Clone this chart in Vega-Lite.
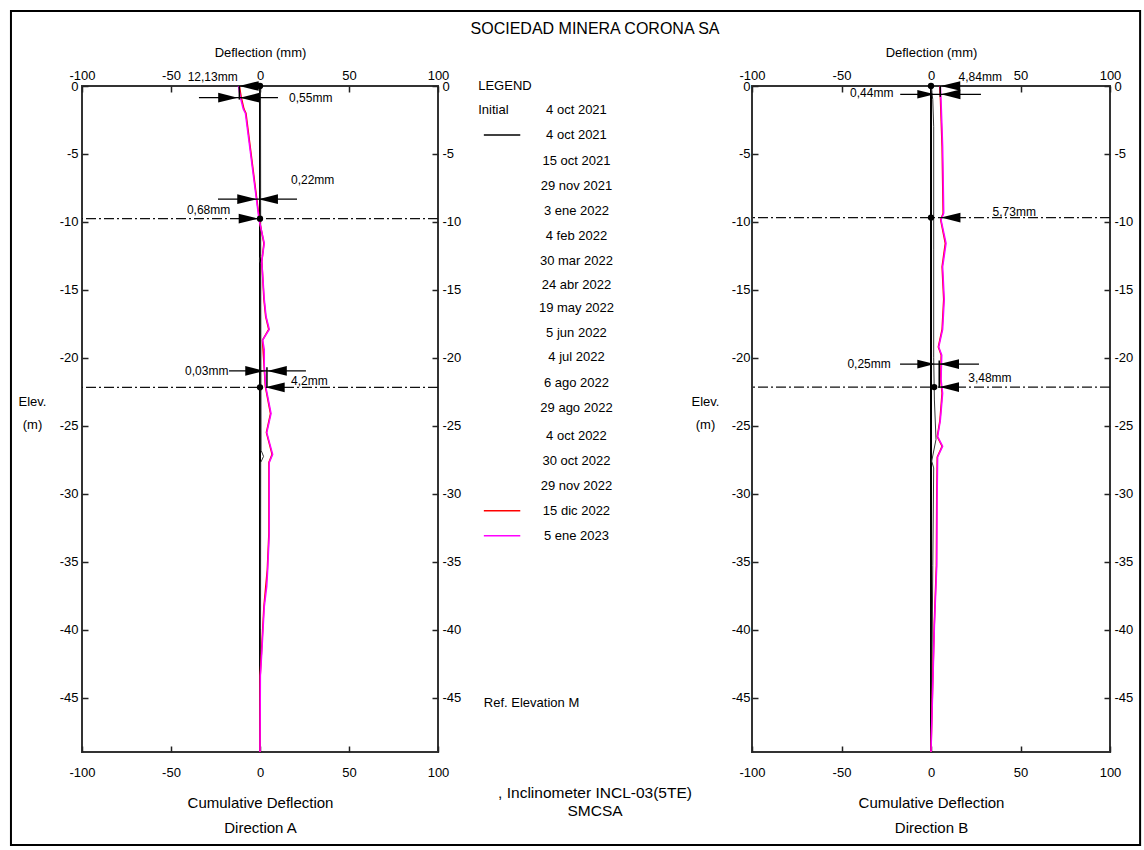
{
"$schema": "https://vega.github.io/schema/vega-lite/v6.json",
"background": "white",
"padding": {"left": 9, "top": 10, "right": 4, "bottom": 4},
"spacing": 0,
"bounds": "flush",
"config": {
  "font": "Liberation Sans",
  "view": {"stroke": "#333", "strokeWidth": 2},
  "axis": {"grid": false, "domain": false, "labelFontSize": 13, "labelColor": "#000", "labelFont": "Liberation Sans", "tickColor": "#222", "tickWidth": 1.5, "titleFont": "Liberation Sans", "titleFontWeight": "normal", "titleColor": "#000", "labelOverlap": false, "labelFlush": false, "labelBound": false, "labelExpr": "'' + datum.value"}
},
"datasets": {
  "profiles": [
    {"dir":"A","series":"Initial","depth":0,"defl":0},
    {"dir":"A","series":"Initial","depth":-49,"defl":0},
    {"dir":"A","series":"4 oct 2021","depth":0,"defl":0},
    {"dir":"A","series":"4 oct 2021","depth":-1,"defl":0.3},
    {"dir":"A","series":"4 oct 2021","depth":-12.5,"defl":0.4},
    {"dir":"A","series":"4 oct 2021","depth":-12.8,"defl":-0.4},
    {"dir":"A","series":"4 oct 2021","depth":-13.1,"defl":0.4},
    {"dir":"A","series":"4 oct 2021","depth":-26.8,"defl":0.6},
    {"dir":"A","series":"4 oct 2021","depth":-27.25,"defl":2.0},
    {"dir":"A","series":"4 oct 2021","depth":-27.7,"defl":0.4},
    {"dir":"A","series":"4 oct 2021","depth":-40,"defl":0.3},
    {"dir":"A","series":"4 oct 2021","depth":-49,"defl":0},
    {"dir":"A","series":"15 dic 2022","depth":0,"defl":-11.6},
    {"dir":"A","series":"15 dic 2022","depth":-0.8,"defl":-10.6},
    {"dir":"A","series":"15 dic 2022","depth":-1.7,"defl":-9.0},
    {"dir":"A","series":"15 dic 2022","depth":-2.0,"defl":-7.9},
    {"dir":"A","series":"15 dic 2022","depth":-9.36,"defl":-0.8},
    {"dir":"A","series":"15 dic 2022","depth":-9.85,"defl":-0.4},
    {"dir":"A","series":"15 dic 2022","depth":-11.57,"defl":2.2},
    {"dir":"A","series":"15 dic 2022","depth":-12.9,"defl":1.0},
    {"dir":"A","series":"15 dic 2022","depth":-15.7,"defl":2.2},
    {"dir":"A","series":"15 dic 2022","depth":-16.96,"defl":3.2},
    {"dir":"A","series":"15 dic 2022","depth":-17.9,"defl":4.9},
    {"dir":"A","series":"15 dic 2022","depth":-18.7,"defl":1.4},
    {"dir":"A","series":"15 dic 2022","depth":-20.6,"defl":2.3},
    {"dir":"A","series":"15 dic 2022","depth":-22.1,"defl":3.0},
    {"dir":"A","series":"15 dic 2022","depth":-24.1,"defl":5.9},
    {"dir":"A","series":"15 dic 2022","depth":-25.5,"defl":3.6},
    {"dir":"A","series":"15 dic 2022","depth":-27.1,"defl":6.8},
    {"dir":"A","series":"15 dic 2022","depth":-27.7,"defl":5.0},
    {"dir":"A","series":"15 dic 2022","depth":-32.9,"defl":5.0},
    {"dir":"A","series":"15 dic 2022","depth":-35.6,"defl":4.1},
    {"dir":"A","series":"15 dic 2022","depth":-38.3,"defl":2.2},
    {"dir":"A","series":"15 dic 2022","depth":-41.7,"defl":0.8},
    {"dir":"A","series":"15 dic 2022","depth":-43.4,"defl":0.1},
    {"dir":"A","series":"15 dic 2022","depth":-49,"defl":0},
    {"dir":"A","series":"5 ene 2023","depth":0,"defl":-12.1},
    {"dir":"A","series":"5 ene 2023","depth":-0.8,"defl":-11.1},
    {"dir":"A","series":"5 ene 2023","depth":-1.7,"defl":-9.4},
    {"dir":"A","series":"5 ene 2023","depth":-2.0,"defl":-8.2},
    {"dir":"A","series":"5 ene 2023","depth":-9.36,"defl":-1.0},
    {"dir":"A","series":"5 ene 2023","depth":-9.85,"defl":-0.5},
    {"dir":"A","series":"5 ene 2023","depth":-11.57,"defl":2.4},
    {"dir":"A","series":"5 ene 2023","depth":-12.9,"defl":1.0},
    {"dir":"A","series":"5 ene 2023","depth":-15.7,"defl":2.4},
    {"dir":"A","series":"5 ene 2023","depth":-16.96,"defl":3.4},
    {"dir":"A","series":"5 ene 2023","depth":-17.9,"defl":5.2},
    {"dir":"A","series":"5 ene 2023","depth":-18.7,"defl":1.5},
    {"dir":"A","series":"5 ene 2023","depth":-19.4,"defl":2.4},
    {"dir":"A","series":"5 ene 2023","depth":-20.6,"defl":2.4},
    {"dir":"A","series":"5 ene 2023","depth":-22.1,"defl":3.2},
    {"dir":"A","series":"5 ene 2023","depth":-24.1,"defl":6.2},
    {"dir":"A","series":"5 ene 2023","depth":-25.5,"defl":3.8},
    {"dir":"A","series":"5 ene 2023","depth":-27.1,"defl":7.1},
    {"dir":"A","series":"5 ene 2023","depth":-27.7,"defl":5.2},
    {"dir":"A","series":"5 ene 2023","depth":-32.9,"defl":5.2},
    {"dir":"A","series":"5 ene 2023","depth":-35.6,"defl":4.3},
    {"dir":"A","series":"5 ene 2023","depth":-36.8,"defl":3.8},
    {"dir":"A","series":"5 ene 2023","depth":-38.3,"defl":2.4},
    {"dir":"A","series":"5 ene 2023","depth":-41.7,"defl":1.0},
    {"dir":"A","series":"5 ene 2023","depth":-43.4,"defl":0.2},
    {"dir":"A","series":"5 ene 2023","depth":-49,"defl":0},
    {"dir":"B","series":"Initial","depth":0,"defl":0},
    {"dir":"B","series":"Initial","depth":-49,"defl":0},
    {"dir":"B","series":"4 oct 2021","depth":0,"defl":0},
    {"dir":"B","series":"4 oct 2021","depth":-1,"defl":1.0},
    {"dir":"B","series":"4 oct 2021","depth":-3,"defl":1.5},
    {"dir":"B","series":"4 oct 2021","depth":-12,"defl":1.5},
    {"dir":"B","series":"4 oct 2021","depth":-20,"defl":1.5},
    {"dir":"B","series":"4 oct 2021","depth":-23.1,"defl":1.9},
    {"dir":"B","series":"4 oct 2021","depth":-26,"defl":2.8},
    {"dir":"B","series":"4 oct 2021","depth":-27.6,"defl":0.4},
    {"dir":"B","series":"4 oct 2021","depth":-28.1,"defl":1.5},
    {"dir":"B","series":"4 oct 2021","depth":-35.3,"defl":1.0},
    {"dir":"B","series":"4 oct 2021","depth":-45,"defl":0.4},
    {"dir":"B","series":"4 oct 2021","depth":-49,"defl":0},
    {"dir":"B","series":"15 dic 2022","depth":0,"defl":4.9},
    {"dir":"B","series":"15 dic 2022","depth":-1.03,"defl":5.3},
    {"dir":"B","series":"15 dic 2022","depth":-4.46,"defl":6.2},
    {"dir":"B","series":"15 dic 2022","depth":-9.36,"defl":6.8},
    {"dir":"B","series":"15 dic 2022","depth":-9.85,"defl":5.4},
    {"dir":"B","series":"15 dic 2022","depth":-11.57,"defl":8.0},
    {"dir":"B","series":"15 dic 2022","depth":-13.3,"defl":6.2},
    {"dir":"B","series":"15 dic 2022","depth":-15.7,"defl":7.1},
    {"dir":"B","series":"15 dic 2022","depth":-17.9,"defl":6.2},
    {"dir":"B","series":"15 dic 2022","depth":-19.2,"defl":4.1},
    {"dir":"B","series":"15 dic 2022","depth":-19.8,"defl":5.7},
    {"dir":"B","series":"15 dic 2022","depth":-21.6,"defl":5.4},
    {"dir":"B","series":"15 dic 2022","depth":-22.6,"defl":6.2},
    {"dir":"B","series":"15 dic 2022","depth":-24.6,"defl":5.0},
    {"dir":"B","series":"15 dic 2022","depth":-25.8,"defl":3.5},
    {"dir":"B","series":"15 dic 2022","depth":-26.5,"defl":6.2},
    {"dir":"B","series":"15 dic 2022","depth":-27.3,"defl":3.5},
    {"dir":"B","series":"15 dic 2022","depth":-30.4,"defl":3.2},
    {"dir":"B","series":"15 dic 2022","depth":-35.3,"defl":3.0},
    {"dir":"B","series":"15 dic 2022","depth":-39.7,"defl":1.8},
    {"dir":"B","series":"15 dic 2022","depth":-44.6,"defl":0.8},
    {"dir":"B","series":"15 dic 2022","depth":-49,"defl":0},
    {"dir":"B","series":"5 ene 2023","depth":0,"defl":5.2},
    {"dir":"B","series":"5 ene 2023","depth":-1.03,"defl":5.6},
    {"dir":"B","series":"5 ene 2023","depth":-4.46,"defl":6.5},
    {"dir":"B","series":"5 ene 2023","depth":-9.36,"defl":7.1},
    {"dir":"B","series":"5 ene 2023","depth":-9.85,"defl":5.6},
    {"dir":"B","series":"5 ene 2023","depth":-11.57,"defl":8.4},
    {"dir":"B","series":"5 ene 2023","depth":-13.3,"defl":6.5},
    {"dir":"B","series":"5 ene 2023","depth":-15.7,"defl":7.4},
    {"dir":"B","series":"5 ene 2023","depth":-17.9,"defl":6.5},
    {"dir":"B","series":"5 ene 2023","depth":-19.2,"defl":4.3},
    {"dir":"B","series":"5 ene 2023","depth":-19.8,"defl":6.0},
    {"dir":"B","series":"5 ene 2023","depth":-21.6,"defl":5.6},
    {"dir":"B","series":"5 ene 2023","depth":-22.6,"defl":6.5},
    {"dir":"B","series":"5 ene 2023","depth":-24.6,"defl":5.2},
    {"dir":"B","series":"5 ene 2023","depth":-25.8,"defl":3.7},
    {"dir":"B","series":"5 ene 2023","depth":-26.5,"defl":6.5},
    {"dir":"B","series":"5 ene 2023","depth":-27.3,"defl":3.7},
    {"dir":"B","series":"5 ene 2023","depth":-30.4,"defl":3.4},
    {"dir":"B","series":"5 ene 2023","depth":-35.3,"defl":3.2},
    {"dir":"B","series":"5 ene 2023","depth":-39.7,"defl":1.9},
    {"dir":"B","series":"5 ene 2023","depth":-44.6,"defl":0.9},
    {"dir":"B","series":"5 ene 2023","depth":-49,"defl":0}
  ],
  "ann": [
    {"dir":"A","kind":"ref","depth":-9.76},
    {"dir":"A","kind":"ref","depth":-22.17},
    {"dir":"A","kind":"dim","defl":-34.3,"defl2":10.1,"depth":-0.86},
    {"dir":"A","kind":"dim","defl":-23.6,"defl2":20.8,"depth":-8.33},
    {"dir":"A","kind":"dim","defl":-17.4,"defl2":25.8,"depth":-20.96},
    {"dir":"A","kind":"vtick","defl":-11.6,"depth":0,"depth2":-1.0},
    {"dir":"A","kind":"vtick","defl":3.9,"depth":-20.7,"depth2":-22.2},
    {"dir":"A","kind":"tri_r","defl":-18.0,"depth":-0.86},
    {"dir":"A","kind":"tri_r","defl":-7.3,"depth":-8.33},
    {"dir":"A","kind":"tri_r","defl":-6.5,"depth":-9.76},
    {"dir":"A","kind":"tri_r","defl":-2.8,"depth":-20.96},
    {"dir":"A","kind":"tri_l","defl":-6.2,"depth":0},
    {"dir":"A","kind":"tri_l","defl":-5.8,"depth":-0.86},
    {"dir":"A","kind":"tri_l","defl":4.6,"depth":-8.33},
    {"dir":"A","kind":"tri_l","defl":9.6,"depth":-20.96},
    {"dir":"A","kind":"tri_l","defl":8.4,"depth":-22.17},
    {"dir":"A","kind":"dot","defl":0,"depth":0},
    {"dir":"A","kind":"dot","defl":0,"depth":-9.76},
    {"dir":"A","kind":"dot","defl":0,"depth":-22.17},
    {"dir":"A","kind":"label","defl":-26.6,"depth":0.68,"text":"12,13mm"},
    {"dir":"A","kind":"label","defl":28.5,"depth":-0.9,"text":"0,55mm"},
    {"dir":"A","kind":"label","defl":29.6,"depth":-6.9,"text":"0,22mm"},
    {"dir":"A","kind":"label","defl":-28.9,"depth":-9.12,"text":"0,68mm"},
    {"dir":"A","kind":"label","defl":-29.9,"depth":-20.96,"text":"0,03mm"},
    {"dir":"A","kind":"label","defl":27.7,"depth":-21.74,"text":"4,2mm"},
    {"dir":"B","kind":"ref","depth":-9.68},
    {"dir":"B","kind":"ref","depth":-22.15},
    {"dir":"B","kind":"dim","defl":-17.2,"defl2":27.9,"depth":-0.61},
    {"dir":"B","kind":"dim","defl":-17.3,"defl2":26.8,"depth":-20.46},
    {"dir":"B","kind":"vtick","defl":5.2,"depth":0,"depth2":-0.8},
    {"dir":"B","kind":"vtick","defl":4.6,"depth":-20.2,"depth2":-22.2},
    {"dir":"B","kind":"tri_r","defl":-2.8,"depth":-0.61},
    {"dir":"B","kind":"tri_r","defl":-2.8,"depth":-20.46},
    {"dir":"B","kind":"tri_l","defl":10.9,"depth":0},
    {"dir":"B","kind":"tri_l","defl":11.0,"depth":-0.61},
    {"dir":"B","kind":"tri_l","defl":11.0,"depth":-9.68},
    {"dir":"B","kind":"tri_l","defl":10.2,"depth":-20.46},
    {"dir":"B","kind":"tri_l","defl":10.2,"depth":-22.15},
    {"dir":"B","kind":"dot","defl":0,"depth":0},
    {"dir":"B","kind":"dot","defl":0,"depth":-9.68},
    {"dir":"B","kind":"dot","defl":1.8,"depth":-22.15},
    {"dir":"B","kind":"label","defl":27.5,"depth":0.64,"text":"4,84mm"},
    {"dir":"B","kind":"label","defl":-33.1,"depth":-0.54,"text":"0,44mm"},
    {"dir":"B","kind":"label","defl":46.5,"depth":-9.24,"text":"5,73mm"},
    {"dir":"B","kind":"label","defl":-34.6,"depth":-20.46,"text":"0,25mm"},
    {"dir":"B","kind":"label","defl":32.9,"depth":-21.5,"text":"3,48mm"}
  ],
  "notes": [
    {"role":"title","text":"SOCIEDAD MINERA CORONA SA","col":50,"slot":-2.28},
    {"role":"head","text":"LEGEND","col":12.8,"slot":0},
    {"role":"head","text":"Initial","col":12.8,"slot":0.96},
    {"role":"date","text":"4 oct 2021","col":44.1,"slot":0.96},
    {"role":"date","text":"4 oct 2021","col":44.1,"slot":1.96},
    {"role":"date","text":"15 oct 2021","col":44.1,"slot":2.99},
    {"role":"date","text":"29 nov 2021","col":44.1,"slot":3.99},
    {"role":"date","text":"3 ene 2022","col":44.1,"slot":4.99},
    {"role":"date","text":"4 feb 2022","col":44.1,"slot":5.99},
    {"role":"date","text":"30 mar 2022","col":44.1,"slot":6.99},
    {"role":"date","text":"24 abr 2022","col":44.1,"slot":7.96},
    {"role":"date","text":"19 may 2022","col":44.1,"slot":8.87},
    {"role":"date","text":"5 jun 2022","col":44.1,"slot":9.89},
    {"role":"date","text":"4 jul 2022","col":44.1,"slot":10.85},
    {"role":"date","text":"6 ago 2022","col":44.1,"slot":11.89},
    {"role":"date","text":"29 ago 2022","col":44.1,"slot":12.89},
    {"role":"date","text":"4 oct 2022","col":44.1,"slot":13.99},
    {"role":"date","text":"30 oct 2022","col":44.1,"slot":14.99},
    {"role":"date","text":"29 nov 2022","col":44.1,"slot":15.99},
    {"role":"date","text":"15 dic 2022","col":44.1,"slot":16.99},
    {"role":"date","text":"5 ene 2023","col":44.1,"slot":17.99},
    {"role":"head","text":"Ref. Elevation M","col":14.6,"slot":24.68},
    {"role":"footer","text":", Inclinometer INCL-03(5TE)","col":50,"slot":28.28},
    {"role":"footer","text":"SMCSA","col":50,"slot":29.0},
    {"role":"swatch","series":"4 oct 2021","slot":1.96},
    {"role":"swatch","series":"15 dic 2022","slot":16.99},
    {"role":"swatch","series":"5 ene 2023","slot":17.99}
  ]
},
"hconcat": [
  {
    "width": 356, "height": 666,
    "resolve": {"axis": {"x": "independent", "y": "independent"}},
    "layer": [
      {"data": {"name": "profiles"}, "transform": [{"filter": "datum.dir==='A' && datum.series==='Initial'"}],
       "mark": {"type": "line", "color": "#000", "strokeWidth": 2},
       "encoding": {
         "x": {"field": "defl", "type": "quantitative", "scale": {"domain": [-100, 100], "nice": false, "zero": false},
               "axis": {"orient": "bottom", "values": [-100, -50, 0, 50, 100], "tickSize": -6, "labelPadding": 20, "title": ["Cumulative Deflection", "Direction A"], "titleFontSize": 15, "titleLineHeight": 25, "titlePadding": 16}},
         "y": {"field": "depth", "type": "quantitative", "scale": {"domain": [-49, 0], "nice": false, "zero": false},
               "axis": {"orient": "left", "values": [0, -5, -10, -15, -20, -25, -30, -35, -40, -45], "tickSize": -6, "labelPadding": 10, "title": ["Elev.", "(m)"], "titleAngle": 0, "titleAlign": "center", "titleBaseline": "middle", "titleX": -50, "titleY": 315, "titleFontSize": 13, "titleLineHeight": 23}},
         "order": {"field": "depth", "sort": "descending"}}},
      {"data": {"name": "profiles"}, "transform": [{"filter": "datum.dir==='A' && datum.series==='4 oct 2021'"}],
       "mark": {"type": "line", "color": "#333", "strokeWidth": 1},
       "encoding": {
         "x": {"field": "defl", "type": "quantitative", "scale": {"domain": [-100, 100], "nice": false, "zero": false}, "axis": null},
         "y": {"field": "depth", "type": "quantitative", "scale": {"domain": [-49, 0], "nice": false, "zero": false}, "axis": null},
         "order": {"field": "depth", "sort": "descending"}}},
      {"data": {"name": "profiles"}, "transform": [{"filter": "datum.dir==='A' && datum.series==='15 dic 2022'"}],
       "mark": {"type": "line", "color": "#ff0000", "strokeWidth": 1.5},
       "encoding": {
         "x": {"field": "defl", "type": "quantitative", "scale": {"domain": [-100, 100], "nice": false, "zero": false}, "axis": null},
         "y": {"field": "depth", "type": "quantitative", "scale": {"domain": [-49, 0], "nice": false, "zero": false}, "axis": null},
         "order": {"field": "depth", "sort": "descending"}}},
      {"data": {"name": "profiles"}, "transform": [{"filter": "datum.dir==='A' && datum.series==='5 ene 2023'"}],
       "mark": {"type": "line", "color": "#ff00ff", "strokeWidth": 1.5},
       "encoding": {
         "x": {"field": "defl", "type": "quantitative", "scale": {"domain": [-100, 100], "nice": false, "zero": false},
               "axis": {"orient": "top", "values": [-100, -50, 0, 50, 100], "tickSize": -6, "labelPadding": 10, "title": "Deflection (mm)", "titleFontSize": 13, "titlePadding": 10}},
         "y": {"field": "depth", "type": "quantitative", "scale": {"domain": [-49, 0], "nice": false, "zero": false},
               "axis": {"orient": "right", "values": [0, -5, -10, -15, -20, -25, -30, -35, -40, -45], "tickSize": -6, "labelPadding": 10, "title": null}},
         "order": {"field": "depth", "sort": "descending"}}},
      {"data": {"name": "ann"}, "transform": [{"filter": "datum.dir==='A' && datum.kind==='ref'"}],
       "mark": {"type": "rule", "color": "#111", "strokeWidth": 1.2, "strokeDash": [10, 3, 2, 3]},
       "encoding": {"y": {"field": "depth", "type": "quantitative", "scale": {"domain": [-49, 0], "nice": false, "zero": false}, "axis": null}}},
      {"data": {"name": "ann"}, "transform": [{"filter": "datum.dir==='A' && datum.kind==='dim'"}],
       "mark": {"type": "rule", "color": "#000", "strokeWidth": 1.2},
       "encoding": {
         "x": {"field": "defl", "type": "quantitative", "scale": {"domain": [-100, 100], "nice": false, "zero": false}, "axis": null},
         "x2": {"field": "defl2"},
         "y": {"field": "depth", "type": "quantitative", "scale": {"domain": [-49, 0], "nice": false, "zero": false}, "axis": null}}},
      {"data": {"name": "ann"}, "transform": [{"filter": "datum.dir==='A' && datum.kind==='vtick'"}],
       "mark": {"type": "rule", "color": "#000", "strokeWidth": 1.5},
       "encoding": {
         "x": {"field": "defl", "type": "quantitative", "scale": {"domain": [-100, 100], "nice": false, "zero": false}, "axis": null},
         "y": {"field": "depth", "type": "quantitative", "scale": {"domain": [-49, 0], "nice": false, "zero": false}, "axis": null},
         "y2": {"field": "depth2"}}},
      {"data": {"name": "ann"}, "transform": [{"filter": "datum.dir==='A' && datum.kind==='tri_r'"}],
       "mark": {"type": "point", "shape": "M-1,-0.5L1,0L-1,0.5Z", "filled": true, "color": "#000", "opacity": 1, "size": 380, "strokeWidth": 0},
       "encoding": {
         "x": {"field": "defl", "type": "quantitative", "scale": {"domain": [-100, 100], "nice": false, "zero": false}, "axis": null},
         "y": {"field": "depth", "type": "quantitative", "scale": {"domain": [-49, 0], "nice": false, "zero": false}, "axis": null}}},
      {"data": {"name": "ann"}, "transform": [{"filter": "datum.dir==='A' && datum.kind==='tri_l'"}],
       "mark": {"type": "point", "shape": "M1,-0.5L-1,0L1,0.5Z", "filled": true, "color": "#000", "opacity": 1, "size": 380, "strokeWidth": 0},
       "encoding": {
         "x": {"field": "defl", "type": "quantitative", "scale": {"domain": [-100, 100], "nice": false, "zero": false}, "axis": null},
         "y": {"field": "depth", "type": "quantitative", "scale": {"domain": [-49, 0], "nice": false, "zero": false}, "axis": null}}},
      {"data": {"name": "ann"}, "transform": [{"filter": "datum.dir==='A' && datum.kind==='dot'"}],
       "mark": {"type": "circle", "color": "#000", "opacity": 1, "size": 40},
       "encoding": {
         "x": {"field": "defl", "type": "quantitative", "scale": {"domain": [-100, 100], "nice": false, "zero": false}, "axis": null},
         "y": {"field": "depth", "type": "quantitative", "scale": {"domain": [-49, 0], "nice": false, "zero": false}, "axis": null}}},
      {"data": {"name": "ann"}, "transform": [{"filter": "datum.dir==='A' && datum.kind==='label'"}],
       "mark": {"type": "text", "fontSize": 12, "color": "#000", "align": "center", "baseline": "middle"},
       "encoding": {
         "x": {"field": "defl", "type": "quantitative", "scale": {"domain": [-100, 100], "nice": false, "zero": false}, "axis": null},
         "y": {"field": "depth", "type": "quantitative", "scale": {"domain": [-49, 0], "nice": false, "zero": false}, "axis": null},
         "text": {"field": "text"}}}
    ]
  },
  {
    "width": 314, "height": 666,
    "view": {"stroke": null},
    "layer": [
      {"data": {"values": [{}]},
       "mark": {"type": "rect", "fillOpacity": 0, "stroke": "#000", "strokeWidth": 2},
       "encoding": {
         "x": {"datum": -136, "type": "quantitative", "scale": {"domain": [0, 100], "nice": false, "zero": false}, "axis": null},
         "x2": {"datum": 223.6},
         "y": {"datum": -3.0, "type": "quantitative", "scale": {"domain": [0, 26.64], "reverse": true, "nice": false, "zero": false}, "axis": null},
         "y2": {"datum": 30.36}}},
      {"data": {"name": "notes"}, "transform": [{"filter": "datum.role==='head'"}],
       "mark": {"type": "text", "align": "left", "baseline": "middle", "fontSize": 13, "color": "#000"},
       "encoding": {
         "x": {"field": "col", "type": "quantitative", "scale": {"domain": [0, 100], "nice": false, "zero": false}, "axis": null},
         "y": {"field": "slot", "type": "quantitative", "scale": {"domain": [0, 26.64], "reverse": true, "nice": false, "zero": false}, "axis": null},
         "text": {"field": "text"}}},
      {"data": {"name": "notes"}, "transform": [{"filter": "datum.role==='date'"}],
       "mark": {"type": "text", "align": "center", "baseline": "middle", "fontSize": 13, "color": "#000"},
       "encoding": {
         "x": {"field": "col", "type": "quantitative", "scale": {"domain": [0, 100], "nice": false, "zero": false}, "axis": null},
         "y": {"field": "slot", "type": "quantitative", "scale": {"domain": [0, 26.64], "reverse": true, "nice": false, "zero": false}, "axis": null},
         "text": {"field": "text"}}},
      {"data": {"name": "notes"}, "transform": [{"filter": "datum.role==='title'"}],
       "mark": {"type": "text", "align": "center", "baseline": "middle", "fontSize": 16, "color": "#000"},
       "encoding": {
         "x": {"field": "col", "type": "quantitative", "scale": {"domain": [0, 100], "nice": false, "zero": false}, "axis": null},
         "y": {"field": "slot", "type": "quantitative", "scale": {"domain": [0, 26.64], "reverse": true, "nice": false, "zero": false}, "axis": null},
         "text": {"field": "text"}}},
      {"data": {"name": "notes"}, "transform": [{"filter": "datum.role==='footer'"}],
       "mark": {"type": "text", "align": "center", "baseline": "middle", "fontSize": 15.5, "color": "#000"},
       "encoding": {
         "x": {"field": "col", "type": "quantitative", "scale": {"domain": [0, 100], "nice": false, "zero": false}, "axis": null},
         "y": {"field": "slot", "type": "quantitative", "scale": {"domain": [0, 26.64], "reverse": true, "nice": false, "zero": false}, "axis": null},
         "text": {"field": "text"}}},
      {"data": {"name": "notes"}, "transform": [{"filter": "datum.role==='swatch'"}],
       "mark": {"type": "rule", "strokeWidth": 1.5},
       "encoding": {
         "x": {"datum": 14.6, "type": "quantitative", "scale": {"domain": [0, 100], "nice": false, "zero": false}, "axis": null},
         "x2": {"datum": 26.2},
         "y": {"field": "slot", "type": "quantitative", "scale": {"domain": [0, 26.64], "reverse": true, "nice": false, "zero": false}, "axis": null},
         "color": {"field": "series", "type": "nominal", "scale": {"domain": ["4 oct 2021", "15 dic 2022", "5 ene 2023"], "range": ["#000000", "#ff0000", "#ff00ff"]}, "legend": null}}}
    ]
  },
  {
    "width": 358, "height": 666,
    "resolve": {"axis": {"x": "independent", "y": "independent"}},
    "layer": [
      {"data": {"name": "profiles"}, "transform": [{"filter": "datum.dir==='B' && datum.series==='Initial'"}],
       "mark": {"type": "line", "color": "#000", "strokeWidth": 2},
       "encoding": {
         "x": {"field": "defl", "type": "quantitative", "scale": {"domain": [-100, 100], "nice": false, "zero": false},
               "axis": {"orient": "bottom", "values": [-100, -50, 0, 50, 100], "tickSize": -6, "labelPadding": 20, "title": ["Cumulative Deflection", "Direction B"], "titleFontSize": 15, "titleLineHeight": 25, "titlePadding": 16}},
         "y": {"field": "depth", "type": "quantitative", "scale": {"domain": [-49, 0], "nice": false, "zero": false},
               "axis": {"orient": "left", "values": [0, -5, -10, -15, -20, -25, -30, -35, -40, -45], "tickSize": -6, "labelPadding": 8, "title": ["Elev.", "(m)"], "titleAngle": 0, "titleAlign": "center", "titleBaseline": "middle", "titleX": -47, "titleY": 315, "titleFontSize": 13, "titleLineHeight": 23}},
         "order": {"field": "depth", "sort": "descending"}}},
      {"data": {"name": "profiles"}, "transform": [{"filter": "datum.dir==='B' && datum.series==='4 oct 2021'"}],
       "mark": {"type": "line", "color": "#333", "strokeWidth": 1},
       "encoding": {
         "x": {"field": "defl", "type": "quantitative", "scale": {"domain": [-100, 100], "nice": false, "zero": false}, "axis": null},
         "y": {"field": "depth", "type": "quantitative", "scale": {"domain": [-49, 0], "nice": false, "zero": false}, "axis": null},
         "order": {"field": "depth", "sort": "descending"}}},
      {"data": {"name": "profiles"}, "transform": [{"filter": "datum.dir==='B' && datum.series==='15 dic 2022'"}],
       "mark": {"type": "line", "color": "#ff0000", "strokeWidth": 1.5},
       "encoding": {
         "x": {"field": "defl", "type": "quantitative", "scale": {"domain": [-100, 100], "nice": false, "zero": false}, "axis": null},
         "y": {"field": "depth", "type": "quantitative", "scale": {"domain": [-49, 0], "nice": false, "zero": false}, "axis": null},
         "order": {"field": "depth", "sort": "descending"}}},
      {"data": {"name": "profiles"}, "transform": [{"filter": "datum.dir==='B' && datum.series==='5 ene 2023'"}],
       "mark": {"type": "line", "color": "#ff00ff", "strokeWidth": 1.5},
       "encoding": {
         "x": {"field": "defl", "type": "quantitative", "scale": {"domain": [-100, 100], "nice": false, "zero": false},
               "axis": {"orient": "top", "values": [-100, -50, 0, 50, 100], "tickSize": -6, "labelPadding": 10, "title": "Deflection (mm)", "titleFontSize": 13, "titlePadding": 10}},
         "y": {"field": "depth", "type": "quantitative", "scale": {"domain": [-49, 0], "nice": false, "zero": false},
               "axis": {"orient": "right", "values": [0, -5, -10, -15, -20, -25, -30, -35, -40, -45], "tickSize": -6, "labelPadding": 10, "title": null}},
         "order": {"field": "depth", "sort": "descending"}}},
      {"data": {"name": "ann"}, "transform": [{"filter": "datum.dir==='B' && datum.kind==='ref'"}],
       "mark": {"type": "rule", "color": "#111", "strokeWidth": 1.2, "strokeDash": [10, 3, 2, 3]},
       "encoding": {"y": {"field": "depth", "type": "quantitative", "scale": {"domain": [-49, 0], "nice": false, "zero": false}, "axis": null}}},
      {"data": {"name": "ann"}, "transform": [{"filter": "datum.dir==='B' && datum.kind==='dim'"}],
       "mark": {"type": "rule", "color": "#000", "strokeWidth": 1.2},
       "encoding": {
         "x": {"field": "defl", "type": "quantitative", "scale": {"domain": [-100, 100], "nice": false, "zero": false}, "axis": null},
         "x2": {"field": "defl2"},
         "y": {"field": "depth", "type": "quantitative", "scale": {"domain": [-49, 0], "nice": false, "zero": false}, "axis": null}}},
      {"data": {"name": "ann"}, "transform": [{"filter": "datum.dir==='B' && datum.kind==='vtick'"}],
       "mark": {"type": "rule", "color": "#000", "strokeWidth": 1.5},
       "encoding": {
         "x": {"field": "defl", "type": "quantitative", "scale": {"domain": [-100, 100], "nice": false, "zero": false}, "axis": null},
         "y": {"field": "depth", "type": "quantitative", "scale": {"domain": [-49, 0], "nice": false, "zero": false}, "axis": null},
         "y2": {"field": "depth2"}}},
      {"data": {"name": "ann"}, "transform": [{"filter": "datum.dir==='B' && datum.kind==='tri_r'"}],
       "mark": {"type": "point", "shape": "M-1,-0.5L1,0L-1,0.5Z", "filled": true, "color": "#000", "opacity": 1, "size": 300, "strokeWidth": 0},
       "encoding": {
         "x": {"field": "defl", "type": "quantitative", "scale": {"domain": [-100, 100], "nice": false, "zero": false}, "axis": null},
         "y": {"field": "depth", "type": "quantitative", "scale": {"domain": [-49, 0], "nice": false, "zero": false}, "axis": null}}},
      {"data": {"name": "ann"}, "transform": [{"filter": "datum.dir==='B' && datum.kind==='tri_l'"}],
       "mark": {"type": "point", "shape": "M1,-0.5L-1,0L1,0.5Z", "filled": true, "color": "#000", "opacity": 1, "size": 380, "strokeWidth": 0},
       "encoding": {
         "x": {"field": "defl", "type": "quantitative", "scale": {"domain": [-100, 100], "nice": false, "zero": false}, "axis": null},
         "y": {"field": "depth", "type": "quantitative", "scale": {"domain": [-49, 0], "nice": false, "zero": false}, "axis": null}}},
      {"data": {"name": "ann"}, "transform": [{"filter": "datum.dir==='B' && datum.kind==='dot'"}],
       "mark": {"type": "circle", "color": "#000", "opacity": 1, "size": 40},
       "encoding": {
         "x": {"field": "defl", "type": "quantitative", "scale": {"domain": [-100, 100], "nice": false, "zero": false}, "axis": null},
         "y": {"field": "depth", "type": "quantitative", "scale": {"domain": [-49, 0], "nice": false, "zero": false}, "axis": null}}},
      {"data": {"name": "ann"}, "transform": [{"filter": "datum.dir==='B' && datum.kind==='label'"}],
       "mark": {"type": "text", "fontSize": 12, "color": "#000", "align": "center", "baseline": "middle"},
       "encoding": {
         "x": {"field": "defl", "type": "quantitative", "scale": {"domain": [-100, 100], "nice": false, "zero": false}, "axis": null},
         "y": {"field": "depth", "type": "quantitative", "scale": {"domain": [-49, 0], "nice": false, "zero": false}, "axis": null},
         "text": {"field": "text"}}}
    ]
  }
]
}
